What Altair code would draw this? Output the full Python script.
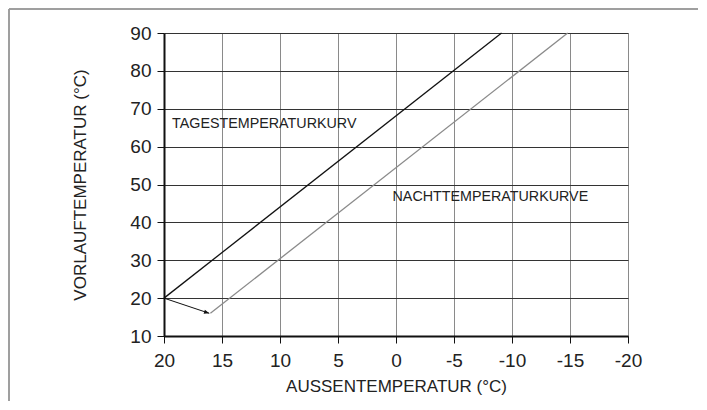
import altair as alt
import pandas as pd

# Data
x_ticks = [20, 15, 10, 5, 0, -5, -10, -15, -20]
y_ticks = [10, 20, 30, 40, 50, 60, 70, 80, 90]

day_x = [20, -9.1]
day_y = [20, 90]
night_x = [16, -14.8]
night_y = [16, 90]
arrow_x = [20, 16.1]
arrow_y = [20, 16]

label_text = ["TAGESTEMPERATURKURVE", "NACHTTEMPERATURKURVE"]
label_x = [19.3, 0.3]
label_y = [66, 46.7]
label_limit = [189, 400]

FONT = "Liberation Sans"

xs = alt.Scale(domain=[20, -20], nice=False, zero=False)
ys = alt.Scale(domain=[10, 90], nice=False, zero=False)

xaxis = alt.Axis(
    values=x_ticks, tickCount=9, title="AUSSENTEMPERATUR (°C)", grid=True, gridColor="#8a8a8a",
    gridWidth=1, domainColor="#111", domainWidth=2, tickColor="#111", tickSize=7,
    tickWidth=1, labelFontSize=19, labelColor="#222", labelFont=FONT, labelPadding=8,
    labelExpr="datum.value + ''", labelOverlap=False,
    titleFontSize=17, titleFont=FONT, titleFontWeight="normal", titleColor="#222",
    titlePadding=8, labelFlush=False)
yaxis = alt.Axis(
    values=y_ticks, tickCount=9, title="VORLAUFTEMPERATUR (°C)", grid=True, gridColor="#333",
    gridWidth=1, domainColor="#111", domainWidth=2, tickColor="#111", tickSize=7,
    tickWidth=1, labelFontSize=19, labelColor="#222", labelFont=FONT, labelPadding=6,
    labelExpr="datum.value + ''", labelOverlap=False,
    titleFontSize=17, titleFont=FONT, titleFontWeight="normal", titleColor="#222",
    titlePadding=40, labelFlush=False)

def X():
    return alt.X("x:Q", scale=xs, axis=xaxis)

def Y():
    return alt.Y("y:Q", scale=ys, axis=yaxis)

day = pd.DataFrame({"x": day_x, "y": day_y})
night = pd.DataFrame({"x": night_x, "y": night_y})
arrow = pd.DataFrame({"x": arrow_x, "y": arrow_y})
labels = pd.DataFrame({"x": label_x, "y": label_y, "t": label_text})

base_day = alt.Chart(day).mark_line(color="#111", strokeWidth=1.3).encode(x=X(), y=Y())
base_night = alt.Chart(night).mark_line(color="#8a8a8a", strokeWidth=1.3).encode(x=X(), y=Y())
arrow_line = alt.Chart(arrow).mark_line(color="#111", strokeWidth=1).encode(x=X(), y=Y())
arrow_head = alt.Chart(arrow.iloc[[1]]).mark_point(
    shape="M0,0 L-1,-0.4 L-1,0.4 Z", filled=True, color="#111", size=110, angle=18, opacity=1
).encode(x=X(), y=Y())
text_day = alt.Chart(labels.iloc[[0]]).mark_text(
    align="left", baseline="middle", font=FONT, fontSize=14.3, color="#222",
    limit=label_limit[0], ellipsis="\u200b"
).encode(x=X(), y=Y(), text="t:N")
text_night = alt.Chart(labels.iloc[[1]]).mark_text(
    align="left", baseline="middle", font=FONT, fontSize=14.3, color="#222"
).encode(x=X(), y=Y(), text="t:N")

frame_top = alt.Chart(day).mark_rule(color="#999", strokeWidth=1.5, clip=False).encode(
    x=alt.value(-155), x2=alt.value(540), y=alt.value(-24))
frame_left = alt.Chart(day).mark_rule(color="#999", strokeWidth=1.5, clip=False).encode(
    x=alt.value(-155), y=alt.value(-24), y2=alt.value(380))

chart = alt.layer(base_day, base_night, arrow_line, arrow_head, text_day, text_night,
                  frame_top, frame_left).properties(
    width=464, height=303,
    autosize=alt.AutoSizeParams(type="none"),
    padding={"left": 156, "top": 25, "right": 70, "bottom": 65},
).configure_view(stroke="#111", strokeWidth=2).configure(background="white")

chart.save("out.html", embed_options={"renderer": "svg", "actions": False})
